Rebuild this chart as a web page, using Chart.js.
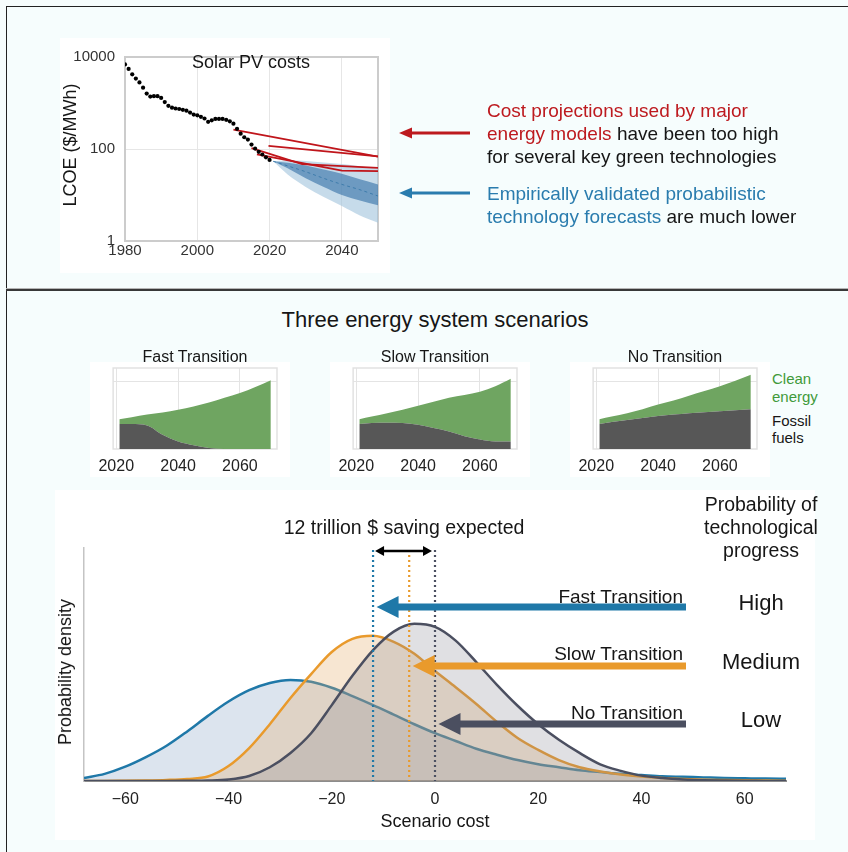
<!DOCTYPE html>
<html>
<head>
<meta charset="utf-8">
<title>Solar PV costs and energy system scenarios</title>
<script src="https://cdn.jsdelivr.net/npm/chart.js@4.4.1/dist/chart.umd.min.js"></script>
<style>
  body { margin:0; width:848px; height:852px; background:#f6fdfd; position:relative; overflow:hidden;
         font-family:"Liberation Sans", Arial, sans-serif; color:#161616; }
  .abs { position:absolute; }
  .c { position:absolute; white-space:nowrap; transform:translate(-50%,-50%); line-height:1; }
  .r { position:absolute; white-space:nowrap; transform:translate(-100%,-50%); line-height:1; }
  .l { position:absolute; white-space:nowrap; transform:translate(0,-50%); line-height:1; }
  .rot { transform:translate(-50%,-50%) rotate(-90deg); }
  canvas { position:absolute; background:#fff; }
  .red { color:#bd1a1f; }
  .blue { color:#2a7cae; }
</style>
</head>
<body>
<div class="abs" style="left:6px;top:6px;width:842px;height:1px;background:#222"></div>
<div class="abs" style="left:6px;top:6px;width:1px;height:846px;background:#222"></div>
<div class="abs" style="left:6px;top:288px;width:842px;height:1px;background:#b5b5b5"></div>
<div class="abs" style="left:6px;top:289px;width:842px;height:2px;background:#383838"></div>

<!-- top panel -->
<canvas id="solar" width="330" height="235" style="left:60px;top:38px"></canvas>
<div class="c" style="left:251px;top:62px;font-size:18px">Solar PV costs</div>
<div class="c rot" style="left:70px;top:145px;font-size:18px">LCOE ($/MWh)</div>

<svg class="abs" style="left:0;top:0" width="848" height="300">
  <line x1="470" y1="133" x2="409" y2="133" stroke="#bd1a1f" stroke-width="2.8"/>
  <polygon points="399,133 412,127.5 412,138.5" fill="#bd1a1f"/>
  <line x1="470" y1="193" x2="409" y2="193" stroke="#2a7cae" stroke-width="2.8"/>
  <polygon points="399,193 412,187.5 412,198.5" fill="#2a7cae"/>
</svg>
<div class="l" style="left:487px;top:110px;font-size:19px"><span class="red">Cost projections used by major</span></div>
<div class="l" style="left:487px;top:133px;font-size:19px"><span class="red">energy models</span> have been too high</div>
<div class="l" style="left:487px;top:156px;font-size:19px">for several key green technologies</div>
<div class="l" style="left:487px;top:193px;font-size:19px"><span class="blue">Empirically validated probabilistic</span></div>
<div class="l" style="left:487px;top:216px;font-size:19px"><span class="blue">technology forecasts</span> are much lower</div>

<!-- scenarios -->
<div class="c" style="left:435px;top:320px;font-size:22px">Three energy system scenarios</div>
<canvas id="fast" width="200" height="115" style="left:90px;top:362px"></canvas>
<canvas id="slow" width="200" height="115" style="left:330px;top:362px"></canvas>
<canvas id="none" width="200" height="115" style="left:570px;top:362px"></canvas>
<div class="c" style="left:195px;top:357px;font-size:16px">Fast Transition</div>
<div class="c" style="left:435px;top:357px;font-size:16px">Slow Transition</div>
<div class="c" style="left:675px;top:357px;font-size:16px">No Transition</div>
<div class="l" style="left:772px;top:378px;font-size:15px;color:#3f9a3a">Clean</div>
<div class="l" style="left:772px;top:396px;font-size:15px;color:#3f9a3a">energy</div>
<div class="l" style="left:772px;top:420px;font-size:15px">Fossil</div>
<div class="l" style="left:772px;top:437px;font-size:15px">fuels</div>

<!-- cost distributions -->
<canvas id="cost" width="760" height="350" style="left:55px;top:490px"></canvas>
<div class="c" style="left:404px;top:528px;font-size:19.5px">12 trillion $ saving expected</div>
<div class="c" style="left:761px;top:505px;font-size:19.5px">Probability of</div>
<div class="c" style="left:761px;top:528px;font-size:19.5px">technological</div>
<div class="c" style="left:761px;top:551px;font-size:19.5px">progress</div>
<div class="r" style="left:683px;top:596px;font-size:19px">Fast Transition</div>
<div class="r" style="left:683px;top:653px;font-size:19px">Slow Transition</div>
<div class="r" style="left:683px;top:712px;font-size:19px">No Transition</div>
<div class="c" style="left:761px;top:603px;font-size:22px">High</div>
<div class="c" style="left:761px;top:662px;font-size:22px">Medium</div>
<div class="c" style="left:761px;top:720px;font-size:22px">Low</div>
<div class="c rot" style="left:65px;top:672px;font-size:18px">Probability density</div>
<div class="c" style="left:435px;top:821px;font-size:18px">Scenario cost</div>

<script>
// ---- solar PV history and projections ($/MWh) ----
const solarYears = [1980,1981,1982,1983,1984,1985,1986,1987,1988,1989,1990,1991,1992,1993,1994,1995,1996,1997,1998,1999,
                    2000,2001,2002,2003,2004,2005,2006,2007,2008,2009,2010,2011,2012,2013,2014,2015,2016,2017,2018,2019,2020];
const solarCost = [6900,5500,4200,3400,2800,2150,1600,1380,1410,1410,1290,1050,870,790,760,740,710,680,620,560,
                   540,500,460,390,420,450,450,450,430,400,355,275,215,180,160,125,102,87,76,66,58];
const modelProjYears = [[2010, 2050], [2019.7, 2050], [2015, 2029, 2050], [2016.5, 2040, 2050]];
const modelProjCost  = [[263, 68], [117, 69], [105, 47, 39], [76, 34, 33]];
const forecastYears     = [2021, 2025, 2030, 2035, 2040, 2045, 2050];
const forecastMedian    = [54, 43, 32, 23, 17, 13, 9.5];
const forecastInnerHigh = [54, 50, 44, 36, 29, 22, 17];
const forecastInnerLow  = [54, 38, 23, 15, 10, 7.6, 6];
const forecastOuterHigh = [54, 56, 55, 51, 47, 42, 37];
const forecastOuterLow  = [54, 28, 15, 9, 5.8, 3.6, 2.5];
const solarYearTicks = [1980, 2000, 2020, 2040];
const solarCostTicks = [1, 100, 10000];

// ---- energy mix scenarios (share of 2070 demand) ----
const scenarioYears = [2021,2025,2030,2035,2040,2045,2050,2055,2060,2065,2070];
const fastFossil = [0.37,0.37,0.35,0.21,0.11,0.055,0.015,0,0,0,0];
const fastClean  = [0.07,0.10,0.16,0.33,0.47,0.575,0.675,0.76,0.83,0.92,1.02];
const slowFossil = [0.37,0.385,0.39,0.385,0.36,0.31,0.26,0.19,0.14,0.11,0.11];
const slowClean  = [0.07,0.095,0.14,0.195,0.28,0.39,0.50,0.61,0.71,0.82,0.93];
const noFossil   = [0.37,0.40,0.43,0.46,0.49,0.51,0.53,0.545,0.56,0.575,0.59];
const noClean    = [0.07,0.08,0.10,0.13,0.17,0.21,0.26,0.315,0.37,0.435,0.51];
const scenarioYearTicks = [2020, 2040, 2060];

// ---- scenario cost distributions (density x1000) ----
const costGrid = [-68,-64,-60,-56,-52,-48,-44,-40,-36,-32,-28,-24,-20,-16,-12,-8,-4,0,4,8,12,16,20,24,28,32,36,40,44,48,52,56,60,64,68];
const fastDensity = [0.5,1.2,2.4,4.0,5.9,8.3,10.9,13.3,15.2,16.4,16.9,16.6,15.6,14.2,12.7,11.1,9.5,8.0,6.7,5.4,4.4,3.5,2.8,2.3,1.8,1.5,1.2,1.0,0.8,0.7,0.6,0.5,0.45,0.4,0.37];
const slowDensity = [0,0,0.03,0.08,0.17,0.34,0.75,2.5,5.5,9.5,13.9,17.9,21.6,23.8,24.3,23.3,21.3,18.4,15.7,12.9,9.9,7.2,5.2,3.5,2.3,1.6,1.1,0.75,0.5,0.34,0.23,0.17,0.12,0.08,0.05];
const noDensity   = [0,0,0,0,0,0.03,0.08,0.25,0.84,2.3,4.7,8.0,12.7,17.6,21.9,25.0,26.3,25.8,23.5,19.9,16.1,12.6,9.5,6.9,4.7,2.8,1.7,0.9,0.5,0.25,0.13,0.07,0.03,0.02,0];
const expectedCost = [-12, -5, 0];   // fast, slow, no transition
const costTicks = [-60,-40,-20,0,20,40,60];

Chart.defaults.font.family = '"Liberation Sans", Arial, sans-serif';
Chart.defaults.color = '#333';
Chart.defaults.animation = false;
Chart.defaults.plugins.legend.display = false;
Chart.defaults.plugins.tooltip.enabled = false;

function pts(xs, ys) { return xs.map((x, i) => ({x: x, y: ys[i]})); }
function frame(color, width) {
  return { id: 'frame', beforeDatasetsDraw(chart) {
    const a = chart.chartArea, ctx = chart.ctx;
    ctx.save(); ctx.strokeStyle = color; ctx.lineWidth = width;
    ctx.strokeRect(a.left, a.top, a.right - a.left, a.bottom - a.top);
    ctx.restore();
  }};
}

// top chart
var band = {borderColor: 'transparent', pointRadius: 0, cubicInterpolationMode: 'monotone'};
new Chart(document.getElementById('solar'), {
  type: 'line',
  data: { datasets: [
    {data: pts(solarYears, solarCost), showLine: false, pointRadius: 2.1, pointBackgroundColor: '#000', pointBorderWidth: 0},
    ...modelProjYears.map((yrs, k) => ({data: pts(yrs, modelProjCost[k]), borderColor: '#c0151b', borderWidth: 1.8, pointRadius: 0})),
    {data: pts(forecastYears, forecastMedian), borderColor: '#3d7bab', borderWidth: 1, borderDash: [3, 3], pointRadius: 0, cubicInterpolationMode: 'monotone'},
    Object.assign({data: pts(forecastYears, forecastInnerLow)}, band),
    Object.assign({data: pts(forecastYears, forecastInnerHigh), fill: '-1', backgroundColor: 'rgba(50,110,165,0.6)'}, band),
    Object.assign({data: pts(forecastYears, forecastOuterLow)}, band),
    Object.assign({data: pts(forecastYears, forecastOuterHigh), fill: '-1', backgroundColor: 'rgba(160,195,220,0.6)'}, band)
  ]},
  options: {
    responsive: false,
    layout: {padding: {left: 5, right: 12, top: 9, bottom: 6}},
    scales: {
      x: {type: 'linear', min: 1980, max: 2050,
          afterBuildTicks: s => { s.ticks = solarYearTicks.map(v => ({value: v})); },
          afterFit: s => { s.height = 26; },
          ticks: {callback: v => String(v), font: {size: 15}, padding: 1, maxRotation: 0},
          grid: {color: '#e6e6e6', drawTicks: false}, border: {display: false}},
      y: {type: 'logarithmic', min: 1, max: 10000,
          afterBuildTicks: s => { s.ticks = solarCostTicks.map(v => ({value: v})); },
          afterFit: s => { s.width = 60; },
          ticks: {callback: v => String(v), font: {size: 15}, padding: 10},
          grid: {color: '#e6e6e6', drawTicks: false}, border: {display: false}}
    }
  },
  plugins: [frame('#cccccc', 2)]
});

// scenario mini charts
function mixChart(id, fossil, clean) {
  new Chart(document.getElementById(id), {
    type: 'line',
    data: { labels: scenarioYears, datasets: [
      {data: pts(scenarioYears, fossil), fill: 'origin', backgroundColor: '#575757', borderColor: 'transparent', pointRadius: 0, cubicInterpolationMode: 'monotone'},
      {data: pts(scenarioYears, clean), fill: '-1', backgroundColor: '#6fa561', borderColor: 'transparent', pointRadius: 0, cubicInterpolationMode: 'monotone'}
    ]},
    options: {
      responsive: false,
      layout: {padding: {left: 23, right: 13, top: 6, bottom: 2}},
      scales: {
        x: {type: 'linear', min: 2019, max: 2072,
            afterBuildTicks: s => { s.ticks = scenarioYearTicks.map(v => ({value: v})); },
            afterFit: s => { s.height = 26; },
            ticks: {callback: v => String(v), font: {size: 16}, color: '#222', padding: 8, maxRotation: 0},
            grid: {color: '#e4e4e4', drawTicks: false}, border: {display: false}},
        y: {stacked: true, min: 0, max: 1.2,
            afterBuildTicks: s => { s.ticks = [{value: 1}]; },
            afterFit: s => { s.width = 0; },
            ticks: {display: false},
            grid: {color: '#e4e4e4', drawTicks: false}, border: {display: false}}
      }
    },
    plugins: [frame('#e2e2e2', 1.5)]
  });
}
mixChart('fast', fastFossil, fastClean);
mixChart('slow', slowFossil, slowClean);
mixChart('none', noFossil, noClean);

// cost distribution chart
const scenarioColors = ['#1f78a8', '#e99a2c', '#4b4f60'];
const arrowRows = [59, 118, 176];
function head(ctx, x, y, dir, len, half) {
  ctx.beginPath(); ctx.moveTo(x, y); ctx.lineTo(x + dir * len, y - half); ctx.lineTo(x + dir * len, y + half);
  ctx.closePath(); ctx.fill();
}
const costAnnotations = {
  id: 'costAnnotations',
  afterDatasetsDraw(chart) {
    const ctx = chart.ctx, xs = chart.scales.x, area = chart.chartArea;
    ctx.save();
    expectedCost.forEach((v, i) => {
      const px = xs.getPixelForValue(v);
      ctx.strokeStyle = scenarioColors[i]; ctx.lineWidth = 2.2; ctx.setLineDash([2, 3]);
      ctx.beginPath(); ctx.moveTo(px, area.top + 2); ctx.lineTo(px, area.bottom); ctx.stroke();
    });
    ctx.setLineDash([]);
    // saving arrow
    const x1 = xs.getPixelForValue(expectedCost[0]) + 2, x2 = xs.getPixelForValue(expectedCost[2]) - 3, ya = area.top + 3;
    ctx.strokeStyle = '#000'; ctx.fillStyle = '#000'; ctx.lineWidth = 2.5;
    ctx.beginPath(); ctx.moveTo(x1 + 6, ya); ctx.lineTo(x2 - 6, ya); ctx.stroke();
    head(ctx, x1, ya, 1, 9, 5); head(ctx, x2, ya, -1, 9, 5);
    // scenario arrows
    expectedCost.forEach((v, i) => {
      const tip = xs.getPixelForValue(v) + 3.5, y = area.top + arrowRows[i], start = area.right - 100;
      ctx.strokeStyle = scenarioColors[i]; ctx.fillStyle = scenarioColors[i]; ctx.lineWidth = 7;
      ctx.beginPath(); ctx.moveTo(start, y); ctx.lineTo(tip + 20, y); ctx.stroke();
      head(ctx, tip, y, 1, 22, 11);
    });
    ctx.restore();
  }
};
new Chart(document.getElementById('cost'), {
  type: 'line',
  data: { datasets: [
    {data: pts(costGrid, noDensity), borderColor: scenarioColors[2], backgroundColor: 'rgba(131,131,143,0.25)', fill: 'origin', borderWidth: 2.5, pointRadius: 0, cubicInterpolationMode: 'monotone'},
    {data: pts(costGrid, slowDensity), borderColor: scenarioColors[1], backgroundColor: 'rgba(228,172,105,0.3)', fill: 'origin', borderWidth: 2.5, pointRadius: 0, cubicInterpolationMode: 'monotone'},
    {data: pts(costGrid, fastDensity), borderColor: scenarioColors[0], backgroundColor: 'rgba(138,165,198,0.3)', fill: 'origin', borderWidth: 2.5, pointRadius: 0, cubicInterpolationMode: 'monotone'}
  ]},
  options: {
    responsive: false,
    layout: {padding: {left: 29, right: 29, top: 58, bottom: 29}},
    scales: {
      x: {type: 'linear', min: -68, max: 68,
          afterBuildTicks: s => { s.ticks = costTicks.map(v => ({value: v})); },
          afterFit: s => { s.height = 30; },
          ticks: {callback: v => v < 0 ? '\u2212' + (-v) : String(v), font: {size: 16}, color: '#222', padding: 9, maxRotation: 0},
          grid: {display: false, drawTicks: false}, border: {color: '#8c8c8c', width: 2}},
      y: {min: 0, max: 39,
          afterFit: s => { s.width = 0; },
          ticks: {display: false},
          grid: {display: false, drawTicks: false}, border: {color: '#c4c4c4', width: 1.5}}
    }
  },
  plugins: [costAnnotations]
});
</script>
</body>
</html>
